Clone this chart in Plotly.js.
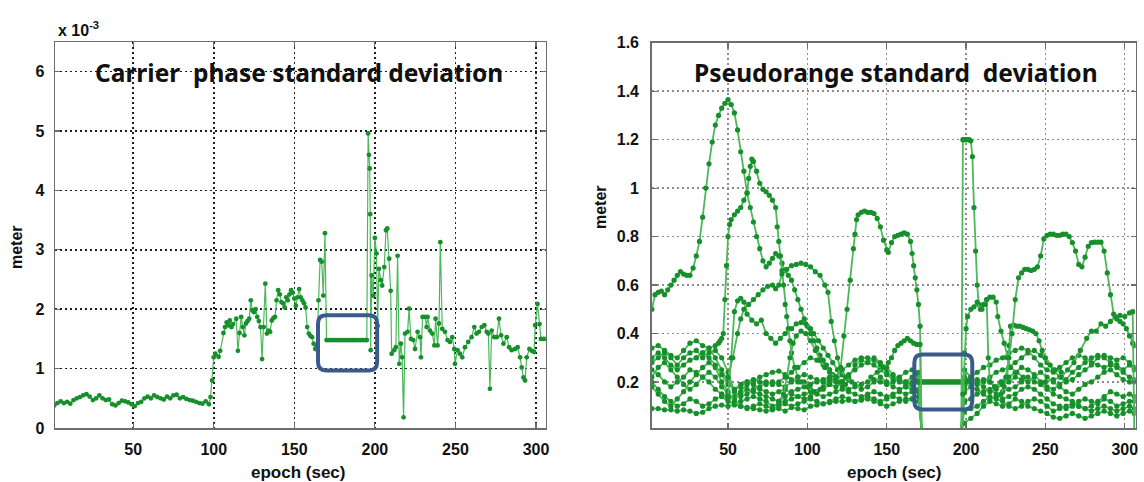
<!DOCTYPE html>
<html>
<head>
<meta charset="utf-8">
<script src="https://cdn.plot.ly/plotly-3.0.1.min.js"></script>
<style>html,body{margin:0;padding:0;background:#fff;}#chart{width:1144px;height:482px;}</style>
</head>
<body>
<div id="chart"></div>
<script>
// ---------------- Left panel: carrier phase standard deviation (x 1e-3 m) ----------------
const carrierEpoch = [1,3,5,7,9,11,13,15,17,19,21,23,25,27,29,31,33,35,37,39,41,43,45,47,49,51,53,55,57,59,61,63,65,67,69,71,73,75,77,79,81,83,85,87,89,91,93,95,97,98,99,
100,101,103,104,106,107,108,109,110,111,112,114,115,116,117,118,119,120,121,122,123,124,125,126,127,128,129,130,131,132,133,134,135,136,137,138,139,140,141,142,143,144,145,146,147,148,149,150,151,152,153,154,155,156,157,158,159,160,161,162,163,164,165,166,167,168,169,
170,171,172,173,174,175,176,177,178,179,180,181,182,183,184,185,186,187,188,189,190,191,192,193,194,195,
195.8,196.3,196.8,197.1,197.4,198,199,200,201,201.7,202.5,203.7,204.5,205.8,206.9,207.7,208.9,209.8,210.4,212,213,214.1,215.1,216.1,216.9,217.8,218.7,220.3,221.2,222.4,223.8,224.9,226.5,228,228.6,229.6,231.1,232.1,232.7,234.2,235.6,236.9,237.7,238.9,239.8,240.6,241.8,243.5,245.1,246.6,248,249.3,249.7,251.3,252.8,254.2,255.9,257.9,260,261.7,263.1,264.6,266.3,267.9,269.4,270.4,271.4,272.5,274.1,275.6,277,278.3,279.8,281.8,283.3,284.9,287,288.6,290.1,291.1,292.2,293.2,294.2,295.9,297.4,298.8,299.5,300.9,302.2,303,304.7,306.1];
const carrierStd = [0.38,0.42,0.45,0.42,0.44,0.41,0.47,0.5,0.52,0.55,0.57,0.53,0.47,0.5,0.55,0.5,0.47,0.48,0.4,0.38,0.42,0.46,0.45,0.43,0.4,0.37,0.42,0.44,0.5,0.53,0.5,0.55,0.52,0.5,0.48,0.53,0.5,0.55,0.56,0.5,0.52,0.49,0.47,0.46,0.44,0.42,0.41,0.45,0.4,0.52,0.8,
1.19,1.25,1.2,1.3,1.6,1.7,1.78,1.73,1.81,1.7,1.75,1.84,1.3,1.6,1.87,1.7,1.56,1.76,1.8,1.84,2.15,1.98,1.95,2.0,1.87,1.8,1.7,1.16,1.7,2.43,1.59,1.64,1.62,1.81,1.85,1.87,2.15,2.32,2.25,2.12,2.1,2.03,2.2,2.15,2.25,2.32,2.28,2.18,2.06,2.2,2.34,2.2,2.15,2.1,2.03,1.7,1.59,1.55,1.53,1.42,1.33,1.38,2.15,2.83,2.8,2.23,3.28,
1.48,1.48,1.48,1.48,1.48,1.48,1.48,1.48,1.48,1.48,1.48,1.48,1.48,1.48,1.48,1.48,1.48,1.48,1.48,1.48,1.48,1.48,1.48,1.48,1.48,1.48,
4.96,4.6,4.37,3.6,1.31,2.57,2.23,3.2,2.94,1.72,2.68,2.49,2.4,2.71,3.33,3.36,2.85,2.31,1.25,1.31,1.36,2.9,1.08,1.42,1.19,0.18,1.59,1.62,2.01,1.5,1.48,1.33,1.62,1.53,1.19,1.87,1.87,1.7,1.87,1.64,1.59,1.39,1.84,1.39,1.76,3.13,1.67,1.62,1.48,1.45,1.53,1.33,1.08,1.31,1.25,1.19,1.36,1.45,1.53,1.7,1.59,1.62,1.7,1.73,1.62,1.59,0.66,1.64,1.53,1.53,1.84,1.56,1.42,1.53,1.36,1.31,1.33,1.36,1.19,1.02,0.85,0.8,1.19,1.33,1.3,1.28,1.73,2.09,1.75,1.5,1.5,1.5];

// ---------------- Right panel: pseudorange standard deviation (m) ----------------
const epochA = [2,4,6,8,10,12,14,16,18,20,22,24,26,28,30,32,34,36,38,40,42,44,46,48,50,52,54,56,58,60,62,64,66,68,70,72,74,76,78,80,82,84,86,88,90,92,94,96,98,100,102,104,106,108,110,112,114,116,118,120,124];
const sdA = [0.50,0.56,0.57,0.575,0.56,0.58,0.60,0.62,0.64,0.655,0.645,0.64,0.64,0.67,0.72,0.78,0.88,1.00,1.10,1.19,1.26,1.30,1.33,1.35,1.365,1.345,1.31,1.24,1.15,1.07,0.98,0.92,0.86,0.80,0.75,0.70,0.675,0.69,0.71,0.73,0.72,0.69,0.66,0.64,0.62,0.58,0.54,0.50,0.46,0.43,0.40,0.37,0.34,0.31,0.29,0.27,0.25,0.23,0.22,0.2,0.19];

const epochB = [30,34,38,42,44,45,46,47,48,49,50,51,52,54,56,58,60,62,63,64,65,66,68,70,72,74,76,78,80,81,82,83,84,85,86,87,88,89,90,92,94,96,100,104,108];
const sdB = [0.3,0.32,0.34,0.35,0.36,0.37,0.38,0.4,0.54,0.68,0.80,0.85,0.87,0.89,0.905,0.92,0.95,0.98,1.04,1.09,1.12,1.11,1.07,1.02,0.995,0.985,0.97,0.95,0.92,0.84,0.78,0.72,0.66,0.6,0.52,0.47,0.42,0.37,0.32,0.26,0.22,0.2,0.18,0.16,0.17];

const epochD = [46,50,52,54,56,58,60,62,65,68,71,74,77,80,83,86,90,93,96,99,102,104,107,110,113,116,119,122,126];
const sdD = [0.15,0.14,0.3,0.49,0.535,0.545,0.53,0.48,0.455,0.44,0.455,0.4,0.38,0.36,0.38,0.4,0.42,0.44,0.445,0.44,0.42,0.4,0.37,0.34,0.31,0.28,0.25,0.23,0.21];

const epochE = [50,53,56,58,60,63,66,69,72,75,78,80,82,84,87,90,93,96,99,102,105,108,111,113,115,117,119,121,124,128];
const sdE = [0.22,0.3,0.4,0.46,0.5,0.52,0.54,0.56,0.58,0.595,0.6,0.585,0.6,0.645,0.665,0.68,0.685,0.69,0.685,0.675,0.655,0.64,0.6,0.57,0.45,0.37,0.3,0.25,0.22,0.2];

const epochF = [82,85,87,89,91,93,96,99,102,105,108,111,114,118,122];
const sdF = [0.12,0.15,0.22,0.3,0.36,0.39,0.41,0.4,0.37,0.33,0.29,0.26,0.24,0.22,0.2];

const epochG = [110,114,118,121,123,125,127,129,130,131,132,134,136,138,140,142,144,146,148,150,151,153,155,157,159,161,163,165,166,167,168,169,170,171,172,197,198,199,200,201,202,203,204,205,206,207,208,210,212,213,214,215,218];
const sdG = [0.2,0.21,0.22,0.26,0.39,0.5,0.62,0.75,0.81,0.87,0.89,0.9,0.905,0.9,0.9,0.895,0.875,0.84,0.785,0.745,0.735,0.775,0.8,0.805,0.81,0.815,0.81,0.78,0.73,0.68,0.63,0.58,0.52,0.43,0,0,1.2,1.2,1.2,1.2,1.2,1.195,1.13,0.92,0.74,0.6,0.52,0.5,0.52,0.54,0.3,0.2,0.18];

const epochL = [140,144,148,151,153,155,157,159,161,163,165,167,169,171,172];
const sdL = [0.22,0.24,0.26,0.28,0.3,0.33,0.35,0.36,0.37,0.38,0.37,0.36,0.355,0.355,0];

const epochH = [162,166,168,170,171,172,173,174,175,176,177,178,179,180,181,182,183,184,185,186,187,188,189,190,191,192,193,194,195,196,197,198,200,202];
const sdH = [0.18,0.19,0.2,0.2,0.2,0.2,0.2,0.2,0.2,0.2,0.2,0.2,0.2,0.2,0.2,0.2,0.2,0.2,0.2,0.2,0.2,0.2,0.2,0.2,0.2,0.2,0.2,0.2,0.2,0.2,0.2,0.2,0.2,0.21];

const epochM = [197,198,199,200,201,203,205,207,209,211,213,215,217,219,220,222,224,226,228,232,236];
const sdM = [0,0.15,0.32,0.42,0.47,0.5,0.51,0.53,0.5,0.52,0.54,0.55,0.55,0.53,0.47,0.41,0.36,0.3,0.26,0.24,0.22];

const epochK = [222,224,226,227,228,230,232,234,236,238,240,242,244,246,248,250,253,256,260];
const sdK = [0.15,0.18,0.22,0.35,0.43,0.435,0.43,0.43,0.425,0.42,0.415,0.41,0.4,0.37,0.33,0.3,0.27,0.25,0.24];

const epochI = [218,222,225,227,229,231,233,235,237,239,241,243,245,247,249,251,253,255,257,259,261,263,265,267,269,271,273,275,277,279,281,283,285,287,289,291,293,295,297,299,301,303,305,306];
const sdI = [0.18,0.2,0.22,0.3,0.4,0.54,0.63,0.65,0.665,0.665,0.66,0.665,0.675,0.72,0.79,0.805,0.81,0.81,0.805,0.805,0.81,0.81,0.8,0.775,0.74,0.685,0.675,0.715,0.76,0.775,0.777,0.777,0.777,0.74,0.65,0.56,0.48,0.46,0.45,0.44,0.42,0.39,0.36,0.35];

const epochJ = [250,255,260,264,268,272,276,279,282,285,288,291,294,297,300,303,305,306];
const sdJ = [0.2,0.21,0.22,0.25,0.28,0.33,0.38,0.41,0.41,0.44,0.43,0.45,0.47,0.475,0.47,0.485,0.49,0];

// low cluster of satellites, shared epochs
const epochCluster = [2,6,10,14,18,22,26,30,34,38,42,46,50,54,58,62,66,70,74,78,82,86,90,94,98,102,106,110,114,118,122,126,130,134,138,142,146,150,154,158,162,166,170,
172,197,
199,203,207,211,215,219,223,227,231,235,239,243,247,251,255,259,263,267,271,275,279,283,287,291,295,299,303,306];
const sdC1 = [0.09,0.09,0.085,0.085,0.08,0.085,0.08,0.07,0.075,0.09,0.1,0.105,0.1,0.105,0.1,0.095,0.09,0.085,0.08,0.085,0.09,0.08,0.095,0.09,0.085,0.1,0.105,0.11,0.115,0.12,0.12,0.125,0.12,0.125,0.13,0.12,0.11,0.1,0.11,0.12,0.13,0.13,0.12,
0,0,
0.03,0.05,0.07,0.1,0.12,0.11,0.1,0.11,0.13,0.12,0.1,0.09,0.08,0.07,0.055,0.05,0.06,0.07,0.06,0.05,0.06,0.07,0.08,0.07,0.06,0.07,0.08,0.07];
const sdC2 = [0.2,0.17,0.14,0.12,0.1,0.11,0.13,0.12,0.1,0.11,0.13,0.14,0.12,0.11,0.12,0.13,0.14,0.13,0.12,0.1,0.11,0.12,0.13,0.14,0.15,0.16,0.15,0.14,0.15,0.16,0.17,0.16,0.15,0.14,0.15,0.16,0.15,0.14,0.15,0.16,0.15,0.16,0.17,
0,0,
0.12,0.13,0.15,0.16,0.17,0.15,0.13,0.14,0.15,0.17,0.18,0.17,0.15,0.13,0.11,0.1,0.09,0.1,0.12,0.13,0.12,0.11,0.13,0.12,0.1,0.11,0.12,0.12];
const sdC3 = [0.25,0.23,0.2,0.18,0.2,0.22,0.25,0.24,0.22,0.2,0.17,0.15,0.13,0.14,0.16,0.19,0.2,0.22,0.23,0.24,0.245,0.23,0.21,0.2,0.2,0.19,0.2,0.21,0.22,0.2,0.18,0.17,0.18,0.19,0.2,0.21,0.2,0.19,0.2,0.21,0.2,0.19,0.2,
0,0,
0.18,0.2,0.21,0.2,0.22,0.24,0.25,0.26,0.28,0.3,0.32,0.33,0.31,0.28,0.25,0.22,0.2,0.21,0.23,0.25,0.27,0.3,0.31,0.3,0.29,0.3,0.28,0.26];
const sdC4 = [0.34,0.35,0.33,0.31,0.3,0.33,0.36,0.37,0.35,0.34,0.3,0.25,0.2,0.17,0.18,0.2,0.19,0.17,0.16,0.15,0.16,0.17,0.15,0.14,0.13,0.14,0.16,0.18,0.2,0.22,0.25,0.27,0.29,0.3,0.3,0.29,0.27,0.24,0.22,0.2,0.19,0.2,0.21,
0,0,
0.22,0.2,0.19,0.21,0.2,0.18,0.2,0.22,0.24,0.26,0.25,0.23,0.2,0.18,0.17,0.19,0.21,0.24,0.26,0.28,0.3,0.31,0.3,0.28,0.27,0.25,0.27,0.25];
const sdC5 = [0.28,0.3,0.32,0.3,0.27,0.3,0.32,0.33,0.3,0.32,0.33,0.3,0.24,0.16,0.14,0.15,0.17,0.18,0.2,0.19,0.2,0.22,0.24,0.26,0.28,0.3,0.29,0.27,0.25,0.22,0.2,0.22,0.27,0.29,0.28,0.3,0.28,0.26,0.23,0.21,0.2,0.22,0.23,
0,0,
0.25,0.22,0.2,0.18,0.16,0.17,0.19,0.2,0.22,0.21,0.2,0.22,0.24,0.22,0.2,0.18,0.16,0.15,0.17,0.19,0.2,0.22,0.24,0.25,0.23,0.21,0.2,0.2];
const sdC6 = [0.22,0.26,0.28,0.25,0.22,0.19,0.17,0.19,0.22,0.24,0.22,0.18,0.15,0.13,0.15,0.17,0.16,0.15,0.14,0.13,0.12,0.14,0.16,0.17,0.18,0.17,0.16,0.17,0.19,0.21,0.23,0.21,0.19,0.17,0.18,0.2,0.22,0.2,0.18,0.17,0.18,0.17,0.16,
0,0,
0.16,0.18,0.17,0.15,0.13,0.14,0.16,0.17,0.18,0.2,0.22,0.2,0.19,0.17,0.15,0.14,0.13,0.12,0.1,0.09,0.1,0.12,0.14,0.16,0.15,0.14,0.15,0.14];
const sdC7 = [0.18,0.15,0.12,0.1,0.13,0.16,0.2,0.23,0.26,0.28,0.26,0.2,0.16,0.12,0.1,0.09,0.1,0.11,0.1,0.09,0.1,0.11,0.1,0.11,0.12,0.13,0.12,0.11,0.12,0.13,0.14,0.13,0.12,0.13,0.14,0.13,0.12,0.13,0.14,0.13,0.12,0.13,0.14,
0,0,
0.08,0.09,0.1,0.12,0.14,0.13,0.12,0.1,0.09,0.1,0.12,0.13,0.12,0.1,0.08,0.09,0.1,0.11,0.1,0.09,0.08,0.09,0.1,0.09,0.08,0.09,0.1,0.09];
const sdC8 = [0.3,0.32,0.3,0.27,0.25,0.27,0.29,0.3,0.32,0.3,0.27,0.23,0.19,0.17,0.19,0.2,0.21,0.2,0.19,0.2,0.19,0.18,0.2,0.22,0.23,0.22,0.21,0.2,0.19,0.18,0.2,0.23,0.25,0.27,0.28,0.27,0.25,0.23,0.21,0.22,0.24,0.25,0.24,
0,0,
0.2,0.22,0.24,0.26,0.27,0.29,0.3,0.32,0.33,0.34,0.33,0.3,0.27,0.25,0.24,0.26,0.28,0.3,0.31,0.3,0.28,0.27,0.26,0.27,0.26,0.24,0.22,0.21];

// tick labels
const leftXTicks = [50,100,150,200,250,300];
const leftYTicks = [0,1,2,3,4,5,6];
const rightYTicks = [0.2,0.4,0.6,0.8,1.0,1.2,1.4,1.6];
const rightYLabels = ['0.2','0.4','0.6','0.8','1','1.2','1.4','1.6'];

// ---------------- styling ----------------
const lineGreen = '#4cb85b';
const dotGreen = '#17902c';
const tickFont = {family: 'Liberation Sans, Arial, sans-serif', size: 16, color: '#111', weight: 'bold'};

function seriesTrace(x, y, xa, ya, msize, lw) {
  return {
    x: x, y: y, xaxis: xa, yaxis: ya, type: 'scatter', mode: 'lines+markers',
    line: {color: lineGreen, width: lw},
    marker: {color: dotGreen, size: msize},
    showlegend: false, hoverinfo: 'skip'
  };
}

const traces = [seriesTrace(carrierEpoch, carrierStd, 'x', 'y', 4.8, 1.2)];
const rightSeries = [
  [epochCluster, sdC1],[epochCluster, sdC2],[epochCluster, sdC3],[epochCluster, sdC4],
  [epochCluster, sdC5],[epochCluster, sdC6],[epochCluster, sdC7],[epochCluster, sdC8],
  [epochH, sdH],[epochA, sdA],[epochB, sdB],[epochD, sdD],[epochE, sdE],[epochF, sdF],
  [epochG, sdG],[epochL, sdL],[epochM, sdM],[epochK, sdK],[epochI, sdI],[epochJ, sdJ]
];
rightSeries.forEach(s => traces.push(seriesTrace(s[0], s[1], 'x2', 'y2', 5.2, 1.8)));

function roundedBox(x0, x1, y0, y1, rx, ry, xref, yref) {
  const p = 'M' + (x0+rx) + ',' + y0 + ' L' + (x1-rx) + ',' + y0 + ' Q' + x1 + ',' + y0 + ' ' + x1 + ',' + (y0+ry) +
    ' L' + x1 + ',' + (y1-ry) + ' Q' + x1 + ',' + y1 + ' ' + (x1-rx) + ',' + y1 +
    ' L' + (x0+rx) + ',' + y1 + ' Q' + x0 + ',' + y1 + ' ' + x0 + ',' + (y1-ry) +
    ' L' + x0 + ',' + (y0+ry) + ' Q' + x0 + ',' + y0 + ' ' + (x0+rx) + ',' + y0 + ' Z';
  return {type: 'path', path: p, xref: xref, yref: yref, line: {color: '#3b5a8c', width: 4}, layer: 'above'};
}

const axisCommon = {
  showline: true, mirror: 'ticks', linecolor: '#6d6d6d', linewidth: 1.5,
  ticks: 'inside', ticklen: 5, tickcolor: '#6d6d6d', tickwidth: 1.2,
  zeroline: false, tickfont: tickFont, fixedrange: true
};

const layout = {
  width: 1144, height: 482,
  margin: {l: 0, r: 0, t: 0, b: 0},
  paper_bgcolor: '#ffffff', plot_bgcolor: '#ffffff',
  showlegend: false,
  xaxis: Object.assign({}, axisCommon, {
    domain: [55/1144, 545.7/1144], range: [1.5, 306], anchor: 'y',
    tickmode: 'array', tickvals: leftXTicks, ticklabelstandoff: 6,
    showgrid: true, gridcolor: '#1e1e1e', gridwidth: 1.6, griddash: '2px,3px'
  }),
  yaxis: Object.assign({}, axisCommon, {
    domain: [1-428/482, 1-42/482], range: [0, 6.5], anchor: 'x',
    tickmode: 'array', tickvals: leftYTicks, ticklabelstandoff: 6,
    showgrid: true, gridcolor: '#1e1e1e', gridwidth: 1.6, griddash: '2px,3px'
  }),
  xaxis2: Object.assign({}, axisCommon, {
    domain: [651.7/1144, 1135.7/1144], range: [1.9, 306.9], anchor: 'y2',
    tickmode: 'array', tickvals: leftXTicks, ticklabelstandoff: 6,
    showgrid: true, gridcolor: '#8c8c8c', gridwidth: 1.4, griddash: '2px,3px'
  }),
  yaxis2: Object.assign({}, axisCommon, {
    domain: [1-428/482, 1-42.7/482], range: [0.01, 1.6], anchor: 'x2',
    tickmode: 'array', tickvals: rightYTicks, ticktext: rightYLabels, ticklabelstandoff: 8,
    showgrid: true, gridcolor: '#8c8c8c', gridwidth: 1.4, griddash: '2px,3px'
  }),
  shapes: [
    roundedBox(164.7, 201.4, 0.97, 1.897, 5, 0.14, 'x', 'y'),
    roundedBox(167.4, 203.9, 0.086, 0.313, 5, 0.034, 'x2', 'y2')
  ],
  annotations: [
    {text: 'x 10<sup>-3</sup>', xref: 'paper', yref: 'paper', x: 56/1144, y: 1-29/482, xanchor: 'left', yanchor: 'middle', showarrow: false,
     font: {family: 'Liberation Sans, Arial, sans-serif', size: 16, color: '#111', weight: 'bold'}},
    {text: 'Carrier  phase standard deviation', xref: 'paper', yref: 'paper', x: 299/1144, y: 1-72/482, xanchor: 'center', yanchor: 'middle', showarrow: false,
     font: {family: 'Noto Sans, Open Sans, sans-serif', size: 24.5, color: '#111', weight: 'bold'}},
    {text: 'Pseudorange standard  deviation', xref: 'paper', yref: 'paper', x: 896/1144, y: 1-72/482, xanchor: 'center', yanchor: 'middle', showarrow: false,
     font: {family: 'Noto Sans, Open Sans, sans-serif', size: 24.5, color: '#111', weight: 'bold'}},
    {text: 'meter', xref: 'paper', yref: 'paper', x: 17/1144, y: 1-247/482, textangle: -90, xanchor: 'center', yanchor: 'middle', showarrow: false,
     font: {family: 'Liberation Sans, Arial, sans-serif', size: 16, color: '#111', weight: 'bold'}},
    {text: 'meter', xref: 'paper', yref: 'paper', x: 600/1144, y: 1-207/482, textangle: -90, xanchor: 'center', yanchor: 'middle', showarrow: false,
     font: {family: 'Liberation Sans, Arial, sans-serif', size: 16, color: '#111', weight: 'bold'}},
    {text: 'epoch (sec)', xref: 'paper', yref: 'paper', x: 298/1144, y: 1-472/482, xanchor: 'center', yanchor: 'middle', showarrow: false,
     font: {family: 'Liberation Sans, Arial, sans-serif', size: 17, color: '#111', weight: 'bold'}},
    {text: 'epoch (sec)', xref: 'paper', yref: 'paper', x: 894/1144, y: 1-472/482, xanchor: 'center', yanchor: 'middle', showarrow: false,
     font: {family: 'Liberation Sans, Arial, sans-serif', size: 17, color: '#111', weight: 'bold'}}
  ]
};

Plotly.newPlot('chart', traces, layout, {staticPlot: true, displayModeBar: false});
</script>
</body>
</html>
